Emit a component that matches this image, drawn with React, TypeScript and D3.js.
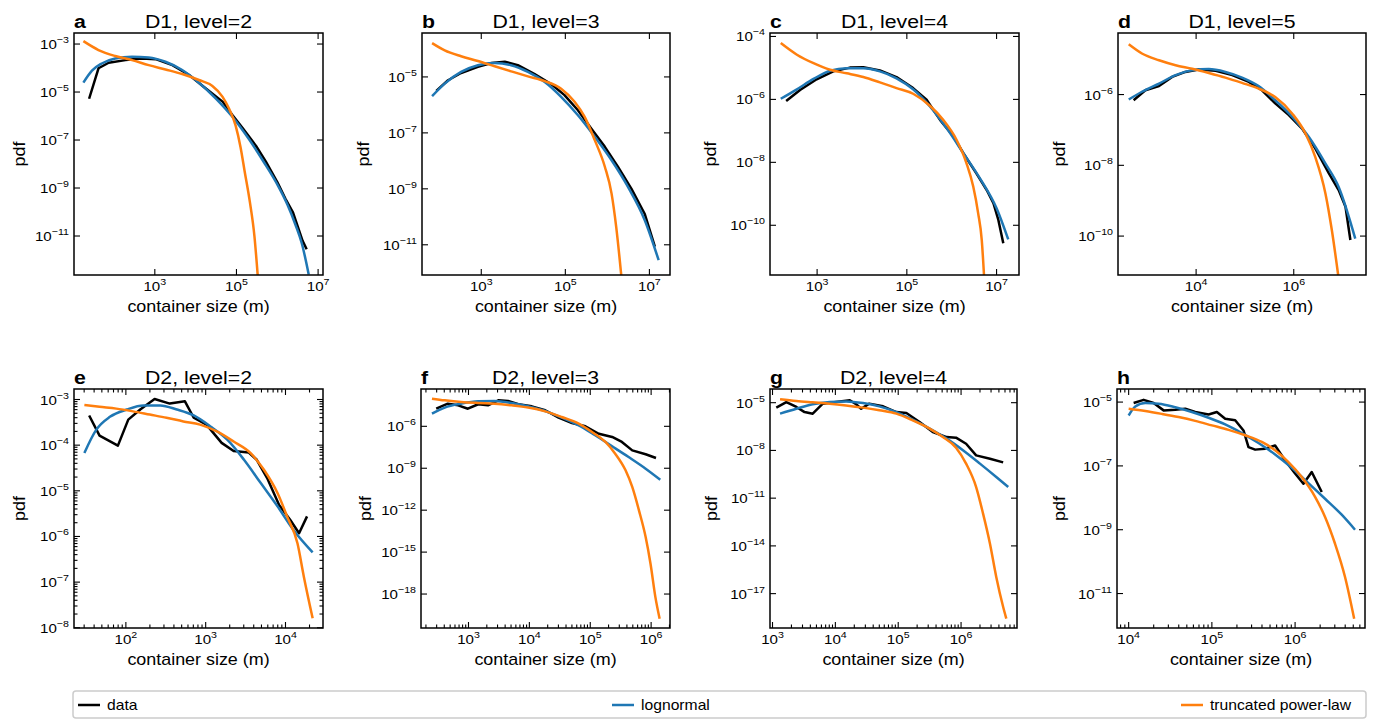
import React from "react";
import * as d3 from "d3";

type P = [number, number]; // [log10(container size), log10(pdf)]

// ---------- D1, level=2 ----------
const d1l2Data: P[] = [[1.39,-5.28],[1.62,-4.01],[1.87,-3.78],[2.28,-3.67],[2.69,-3.60],[3.02,-3.63],[3.43,-3.88],[3.84,-4.29],[4.25,-4.85],[4.66,-5.40],[4.90,-5.96],[5.15,-6.5],[5.48,-7.25],[5.72,-7.9],[6.0,-8.75],[6.2,-9.45],[6.38,-10.0],[6.5,-10.6],[6.62,-11.2],[6.72,-11.55]];
const d1l2Logn: P[] = [[1.25,-4.61],[1.46,-4.11],[1.70,-3.81],[2.03,-3.60],[2.44,-3.53],[2.85,-3.56],[3.26,-3.74],[3.67,-4.08],[4.08,-4.61],[4.49,-5.26],[4.90,-6.03],[5.3,-6.95],[5.7,-8.0],[6.0,-8.85],[6.25,-9.7],[6.45,-10.55],[6.6,-11.3],[6.77,-12.6]];
const d1l2Tpl: P[] = [[1.25,-2.88],[1.62,-3.25],[2.03,-3.5],[2.44,-3.67],[2.85,-3.88],[3.26,-4.06],[3.67,-4.25],[4.08,-4.5],[4.41,-4.75],[4.66,-5.2],[4.82,-5.7],[4.98,-6.4],[5.1,-7.3],[5.2,-8.3],[5.33,-9.6],[5.44,-11.0],[5.52,-12.63]];

// ---------- D1, level=3 ----------
const d1l3Data: P[] = [[1.93,-5.5],[2.21,-5.12],[2.52,-4.86],[2.92,-4.64],[3.24,-4.5],[3.56,-4.46],[3.87,-4.58],[4.27,-4.9],[4.67,-5.26],[4.98,-5.65],[5.30,-6.19],[5.62,-6.85],[5.94,-7.5],[6.25,-8.21],[6.57,-8.99],[6.89,-9.9],[7.13,-11.07]];
const d1l3Logn: P[] = [[1.83,-5.69],[2.13,-5.24],[2.52,-4.82],[2.92,-4.58],[3.32,-4.5],[3.71,-4.58],[4.11,-4.82],[4.51,-5.18],[4.90,-5.71],[5.30,-6.37],[5.70,-7.14],[6.10,-7.98],[6.49,-8.93],[6.89,-10.12],[7.22,-11.55]];
const d1l3Tpl: P[] = [[1.83,-3.79],[2.13,-4.05],[2.52,-4.26],[2.92,-4.43],[3.32,-4.62],[3.71,-4.80],[4.11,-4.98],[4.51,-5.15],[4.90,-5.42],[5.22,-5.89],[5.46,-6.43],[5.70,-7.26],[5.94,-8.21],[6.10,-9.17],[6.21,-10.36],[6.33,-12.08]];

// ---------- D1, level=4 ----------
const d1l4Data: P[] = [[2.31,-6.05],[2.62,-5.70],[2.99,-5.36],[3.36,-5.11],[3.73,-4.99],[4.03,-4.98],[4.40,-5.08],[4.77,-5.29],[5.14,-5.64],[5.44,-6.01],[5.74,-6.65],[6.04,-7.18],[6.26,-7.71],[6.55,-8.35],[6.78,-8.88],[6.93,-9.30],[7.04,-9.83],[7.15,-10.57]];
const d1l4Logn: P[] = [[2.19,-5.98],[2.55,-5.68],[2.92,-5.35],[3.29,-5.09],[3.66,-5.01],[4.03,-5.01],[4.40,-5.11],[4.77,-5.33],[5.14,-5.68],[5.52,-6.23],[5.89,-6.92],[6.26,-7.71],[6.63,-8.51],[7.0,-9.46],[7.26,-10.45]];
const d1l4Tpl: P[] = [[2.19,-4.21],[2.55,-4.58],[2.92,-4.85],[3.29,-5.06],[3.66,-5.17],[4.03,-5.29],[4.40,-5.46],[4.77,-5.64],[5.14,-5.82],[5.52,-6.21],[5.81,-6.65],[6.11,-7.29],[6.33,-8.03],[6.48,-8.77],[6.59,-9.62],[6.67,-10.47],[6.72,-11.58]];

// ---------- D1, level=5 ----------
const d1l5Data: P[] = [[2.72,-6.16],[2.96,-5.88],[3.24,-5.76],[3.51,-5.50],[3.78,-5.36],[4.05,-5.29],[4.40,-5.33],[4.74,-5.45],[5.08,-5.64],[5.35,-5.88],[5.62,-6.25],[5.90,-6.58],[6.17,-6.96],[6.44,-7.52],[6.72,-8.23],[6.92,-8.70],[7.06,-9.17],[7.16,-10.11]];
const d1l5Logn: P[] = [[2.62,-6.14],[2.89,-5.92],[3.24,-5.69],[3.58,-5.45],[3.92,-5.31],[4.26,-5.28],[4.60,-5.36],[4.94,-5.52],[5.28,-5.76],[5.62,-6.16],[5.97,-6.63],[6.31,-7.20],[6.65,-7.95],[6.92,-8.61],[7.26,-10.07]];
const d1l5Tpl: P[] = [[2.62,-4.58],[2.89,-4.84],[3.24,-5.03],[3.58,-5.17],[3.92,-5.27],[4.26,-5.39],[4.60,-5.52],[4.94,-5.67],[5.28,-5.83],[5.62,-6.07],[5.97,-6.54],[6.24,-7.10],[6.44,-7.76],[6.65,-8.80],[6.78,-9.83],[6.91,-11.10]];

// ---------- D2, level=2 ----------
const d2l2Data: P[] = [[1.54,-3.35],[1.67,-3.79],[1.90,-4.01],[2.03,-3.44],[2.18,-3.22],[2.36,-2.99],[2.55,-3.09],[2.74,-3.04],[2.85,-3.40],[3.01,-3.55],[3.20,-3.95],[3.35,-4.13],[3.54,-4.16],[3.64,-4.32],[3.77,-4.72],[3.92,-5.31],[4.06,-5.64],[4.17,-5.93],[4.27,-5.56]];
const d2l2Logn: P[] = [[1.48,-4.17],[1.63,-3.66],[1.80,-3.38],[2.01,-3.22],[2.22,-3.13],[2.43,-3.13],[2.64,-3.22],[2.85,-3.35],[3.06,-3.59],[3.27,-3.88],[3.48,-4.32],[3.69,-4.83],[3.90,-5.34],[4.10,-5.86],[4.34,-6.35]];
const d2l2Tpl: P[] = [[1.48,-3.12],[1.67,-3.16],[1.88,-3.20],[2.09,-3.26],[2.30,-3.33],[2.51,-3.40],[2.72,-3.48],[2.93,-3.55],[3.14,-3.70],[3.35,-3.92],[3.56,-4.17],[3.73,-4.54],[3.90,-5.05],[4.02,-5.56],[4.15,-6.15],[4.23,-6.88],[4.34,-7.79]];

// ---------- D2, level=3 ----------
const d2l3Data: P[] = [[2.47,-4.74],[2.66,-4.38],[2.83,-4.50],[2.99,-4.74],[3.16,-4.42],[3.32,-4.50],[3.49,-4.14],[3.65,-4.19],[3.82,-4.42],[4.04,-4.57],[4.26,-4.85],[4.48,-5.38],[4.70,-5.76],[4.92,-6.0],[5.14,-6.53],[5.36,-6.76],[5.52,-7.12],[5.69,-7.72],[5.91,-8.0],[6.08,-8.27]];
const d2l3Logn: P[] = [[2.40,-5.09],[2.61,-4.66],[2.88,-4.38],[3.16,-4.21],[3.43,-4.19],[3.71,-4.33],[3.98,-4.57],[4.26,-4.90],[4.53,-5.38],[4.81,-5.93],[5.08,-6.64],[5.36,-7.43],[5.63,-8.20],[5.91,-9.03],[6.15,-9.82]];
const d2l3Tpl: P[] = [[2.40,-4.02],[2.61,-4.14],[2.88,-4.26],[3.16,-4.33],[3.43,-4.38],[3.71,-4.50],[3.98,-4.66],[4.26,-4.93],[4.53,-5.33],[4.81,-5.81],[5.03,-6.41],[5.25,-7.12],[5.41,-7.96],[5.58,-9.15],[5.69,-10.34],[5.80,-12.01],[5.91,-13.92],[5.99,-15.83],[6.07,-18.22],[6.14,-19.77]];

// ---------- D2, level=4 ----------
const d2l4Data: P[] = [[3.06,-5.31],[3.22,-4.96],[3.38,-5.27],[3.51,-5.59],[3.64,-5.69],[3.80,-5.06],[4.01,-4.96],[4.23,-4.85],[4.33,-5.10],[4.41,-5.38],[4.54,-5.06],[4.76,-5.23],[4.97,-5.59],[5.13,-5.65],[5.34,-6.21],[5.55,-6.84],[5.77,-7.16],[5.92,-7.20],[6.08,-7.58],[6.24,-8.31],[6.46,-8.52],[6.67,-8.75]];
const d2l4Logn: P[] = [[3.12,-5.69],[3.38,-5.38],[3.64,-5.10],[3.91,-4.96],[4.17,-4.92],[4.44,-5.02],[4.70,-5.23],[4.97,-5.59],[5.23,-6.07],[5.50,-6.63],[5.77,-7.26],[6.03,-7.99],[6.30,-8.83],[6.56,-9.67],[6.75,-10.30]];
const d2l4Tpl: P[] = [[3.12,-4.79],[3.38,-4.90],[3.64,-4.98],[3.91,-5.06],[4.17,-5.17],[4.44,-5.31],[4.70,-5.48],[4.97,-5.69],[5.23,-6.11],[5.50,-6.63],[5.71,-7.16],[5.92,-7.83],[6.08,-8.83],[6.24,-10.30],[6.35,-11.97],[6.46,-13.86],[6.56,-15.95],[6.67,-17.84],[6.72,-18.57]];

// ---------- panel h ----------
const d2l5Data: P[] = [[4.06,-5.03],[4.18,-4.93],[4.30,-5.03],[4.42,-5.26],[4.56,-5.24],[4.68,-5.21],[4.80,-5.31],[4.96,-5.39],[5.06,-5.31],[5.16,-5.52],[5.28,-5.57],[5.38,-5.89],[5.44,-6.41],[5.52,-6.49],[5.64,-6.46],[5.76,-6.36],[5.88,-6.83],[6.0,-7.24],[6.10,-7.56],[6.20,-7.19],[6.32,-7.82]];
const d2l5Logn: P[] = [[4.0,-5.42],[4.08,-5.14],[4.20,-5.03],[4.36,-5.05],[4.56,-5.16],[4.76,-5.31],[4.96,-5.49],[5.16,-5.70],[5.36,-5.97],[5.56,-6.28],[5.76,-6.64],[5.96,-7.06],[6.16,-7.54],[6.36,-8.03],[6.56,-8.53],[6.72,-9.0]];
const d2l5Tpl: P[] = [[4.0,-5.21],[4.20,-5.28],[4.40,-5.37],[4.60,-5.47],[4.80,-5.59],[5.0,-5.73],[5.20,-5.87],[5.40,-6.04],[5.60,-6.25],[5.76,-6.51],[5.92,-6.88],[6.08,-7.35],[6.24,-7.97],[6.36,-8.60],[6.48,-9.44],[6.60,-10.48],[6.71,-11.79]];

// ---------- tick exponents ----------
const xTicksA = [3, 5, 7], yTicksA = [-3, -5, -7, -9, -11];
const xTicksB = [3, 5, 7], yTicksB = [-5, -7, -9, -11];
const xTicksC = [3, 5, 7], yTicksC = [-4, -6, -8, -10];
const xTicksD = [4, 6], yTicksD = [-6, -8, -10];
const xTicksE = [2, 3, 4], yTicksE = [-3, -4, -5, -6, -7, -8];
const xTicksF = [3, 4, 5, 6], yTicksF = [-6, -9, -12, -15, -18];
const xTicksG = [3, 4, 5, 6], yTicksG = [-5, -8, -11, -14, -17];
const xTicksH = [4, 5, 6], yTicksH = [-5, -7, -9, -11];

const letters = ["a", "b", "c", "d", "e", "f", "g", "h"];
const titles = ["D1, level=2", "D1, level=3", "D1, level=4", "D1, level=5", "D2, level=2", "D2, level=3", "D2, level=4", ""];
const seriesNames = ["data", "lognormal", "truncated power-law"];
const colors = ["#000000", "#1f77b4", "#ff7f0e"];

const FONT = "'Liberation Sans', Arial, Helvetica, sans-serif";
const SX = 1.12;

const panels = [
  { l: 74, r: 323, t: 33, b: 275, xd: [1.02, 7.12], yd: [-12.625, -2.54], xt: xTicksA, yt: yTicksA, xm: false, ym: false, pdfX: 20, s: [d1l2Data, d1l2Logn, d1l2Tpl] },
  { l: 422, r: 670, t: 33, b: 275, xd: [1.59, 7.49], yd: [-12.08, -3.43], xt: xTicksB, yt: yTicksB, xm: false, ym: false, pdfX: 364, s: [d1l3Data, d1l3Logn, d1l3Tpl] },
  { l: 770, r: 1019, t: 33, b: 275, xd: [1.95, 7.5], yd: [-11.58, -3.89], xt: xTicksC, yt: yTicksC, xm: false, ym: false, pdfX: 711, s: [d1l4Data, d1l4Logn, d1l4Tpl] },
  { l: 1118, r: 1366, t: 33, b: 275, xd: [2.4, 7.48], yd: [-11.1, -4.26], xt: xTicksD, yt: yTicksD, xm: false, ym: false, pdfX: 1060, s: [d1l5Data, d1l5Logn, d1l5Tpl] },
  { l: 74, r: 323, t: 389, b: 628, xd: [1.35, 4.47], yd: [-8.005, -2.77], xt: xTicksE, yt: yTicksE, xm: true, ym: true, pdfX: 20, s: [d2l2Data, d2l2Logn, d2l2Tpl] },
  { l: 421, r: 670, t: 389, b: 628, xd: [2.22, 6.31], yd: [-20.43, -3.33], xt: xTicksF, yt: yTicksF, xm: true, ym: false, pdfX: 366, s: [d2l3Data, d2l3Logn, d2l3Tpl] },
  { l: 770, r: 1017, t: 389, b: 628, xd: [2.96, 6.89], yd: [-19.16, -4.14], xt: xTicksG, yt: yTicksG, xm: true, ym: false, pdfX: 712, s: [d2l4Data, d2l4Logn, d2l4Tpl] },
  { l: 1117, r: 1365, t: 389, b: 628, xd: [3.86, 6.84], yd: [-12.08, -4.59], xt: xTicksH, yt: yTicksH, xm: true, ym: false, pdfX: 1060, s: [d2l5Data, d2l5Logn, d2l5Tpl] },
];

function expStr(e: number) {
  return e < 0 ? "\u2212" + String(-e) : String(e);
}

function minorTicks(dom: number[]) {
  const out: number[] = [];
  for (let d = Math.floor(dom[0]); d <= Math.ceil(dom[1]); d++) {
    for (let k = 2; k <= 9; k++) {
      const v = d + Math.log10(k);
      if (v > dom[0] && v < dom[1]) out.push(v);
    }
  }
  return out;
}

function Txt(props: { x: number; y: number; size: number; anchor?: string; weight?: string; rotate?: number; children: any }) {
  const { x, y, size, anchor = "start", weight = "normal", rotate = 0, children } = props;
  return (
    <g transform={`translate(${x},${y}) rotate(${rotate}) scale(${SX},1)`}>
      <text fontSize={size} textAnchor={anchor} fontWeight={weight} fontFamily={FONT} fill="#000">
        {children}
      </text>
    </g>
  );
}

function Pow({ e }: { e: number }) {
  return (
    <>
      <tspan>10</tspan>
      <tspan fontSize={9.5} dy={-6}>{expStr(e)}</tspan>
    </>
  );
}

function Panel({ p, i }: { p: any; i: number }) {
  const xs = d3.scaleLog().domain([10 ** p.xd[0], 10 ** p.xd[1]]).range([p.l, p.r]);
  const ys = d3.scaleLog().domain([10 ** p.yd[0], 10 ** p.yd[1]]).range([p.b, p.t]);
  const X = (v: number) => xs(10 ** v);
  const Y = (v: number) => ys(10 ** v);
  const lineData = d3.line<P>().x((d) => X(d[0])).y((d) => Y(d[1]));
  const lineFit = d3.line<P>().x((d) => X(d[0])).y((d) => Y(d[1])).curve(d3.curveMonotoneX);
  const cid = `clip-${i}`;
  const MJ = 6, MN = 3.5;
  const xMinor = p.xm ? minorTicks(p.xd) : [];
  const yMinor = p.ym ? minorTicks(p.yd) : [];
  const cx = (p.l + p.r) / 2, cy = (p.t + p.b) / 2;
  return (
    <g>
      <defs>
        <clipPath id={cid}>
          <rect x={p.l} y={p.t} width={p.r - p.l} height={p.b - p.t} />
        </clipPath>
      </defs>
      <g clipPath={`url(#${cid})`} fill="none" strokeWidth={2.5} strokeLinejoin="round" strokeLinecap="butt">
        <path d={lineData(p.s[0]) || ""} stroke={colors[0]} />
        <path d={lineFit(p.s[1]) || ""} stroke={colors[1]} />
        <path d={lineFit(p.s[2]) || ""} stroke={colors[2]} />
      </g>
      <g stroke="#000" strokeWidth={1.1}>
        {p.xt.map((e: number) => (
          <g key={"xt" + e}>
            <line x1={X(e)} x2={X(e)} y1={p.b} y2={p.b - MJ} />
            <line x1={X(e)} x2={X(e)} y1={p.t} y2={p.t + MJ} />
          </g>
        ))}
        {xMinor.map((v: number, k: number) => (
          <g key={"xm" + k}>
            <line x1={X(v)} x2={X(v)} y1={p.b} y2={p.b - MN} />
            <line x1={X(v)} x2={X(v)} y1={p.t} y2={p.t + MN} />
          </g>
        ))}
        {p.yt.map((e: number) => (
          <g key={"yt" + e}>
            <line x1={p.l} x2={p.l + MJ} y1={Y(e)} y2={Y(e)} />
            <line x1={p.r} x2={p.r - MJ} y1={Y(e)} y2={Y(e)} />
          </g>
        ))}
        {yMinor.map((v: number, k: number) => (
          <g key={"ym" + k}>
            <line x1={p.l} x2={p.l + MN} y1={Y(v)} y2={Y(v)} />
            <line x1={p.r} x2={p.r - MN} y1={Y(v)} y2={Y(v)} />
          </g>
        ))}
      </g>
      <rect x={p.l} y={p.t} width={p.r - p.l} height={p.b - p.t} fill="none" stroke="#000" strokeWidth={1.5} />
      {p.xt.map((e: number) => (
        <Txt key={"xl" + e} x={X(e)} y={p.b + 16} size={13.5} anchor="middle">
          <Pow e={e} />
        </Txt>
      ))}
      {p.yt.map((e: number) => (
        <Txt key={"yl" + e} x={p.l - 5} y={Y(e) + 5} size={13.5} anchor="end">
          <Pow e={e} />
        </Txt>
      ))}
      <Txt x={cx} y={p.b + 37} size={16} anchor="middle">container size (m)</Txt>
      <Txt x={p.pdfX + 5} y={cy} size={16} anchor="middle" rotate={-90}>pdf</Txt>
      {titles[i] ? <Txt x={cx} y={p.t - 5} size={19} anchor="middle">{titles[i]}</Txt> : null}
      <Txt x={p.l} y={p.t - 5} size={19} weight="bold">{letters[i]}</Txt>
    </g>
  );
}

const legendItemX = [78, 612, 1181];

export default function App() {
  return (
    <svg width={1380} height={720} style={{ position: "absolute", left: 0, top: 0, background: "#fff" }}>
      <rect x={0} y={0} width={1380} height={720} fill="#fff" />
      {panels.map((p, i) => (
        <Panel key={i} p={p} i={i} />
      ))}
      <rect x={73} y={691} width={1293} height={27} rx={3} fill="#fff" stroke="#cccccc" strokeWidth={1.5} />
      {seriesNames.map((n, k) => (
        <g key={n}>
          <line x1={legendItemX[k]} x2={legendItemX[k] + 22} y1={705} y2={705} stroke={colors[k]} strokeWidth={2.5} />
          <Txt x={legendItemX[k] + 29} y={710} size={14}>{n}</Txt>
        </g>
      ))}
    </svg>
  );
}
